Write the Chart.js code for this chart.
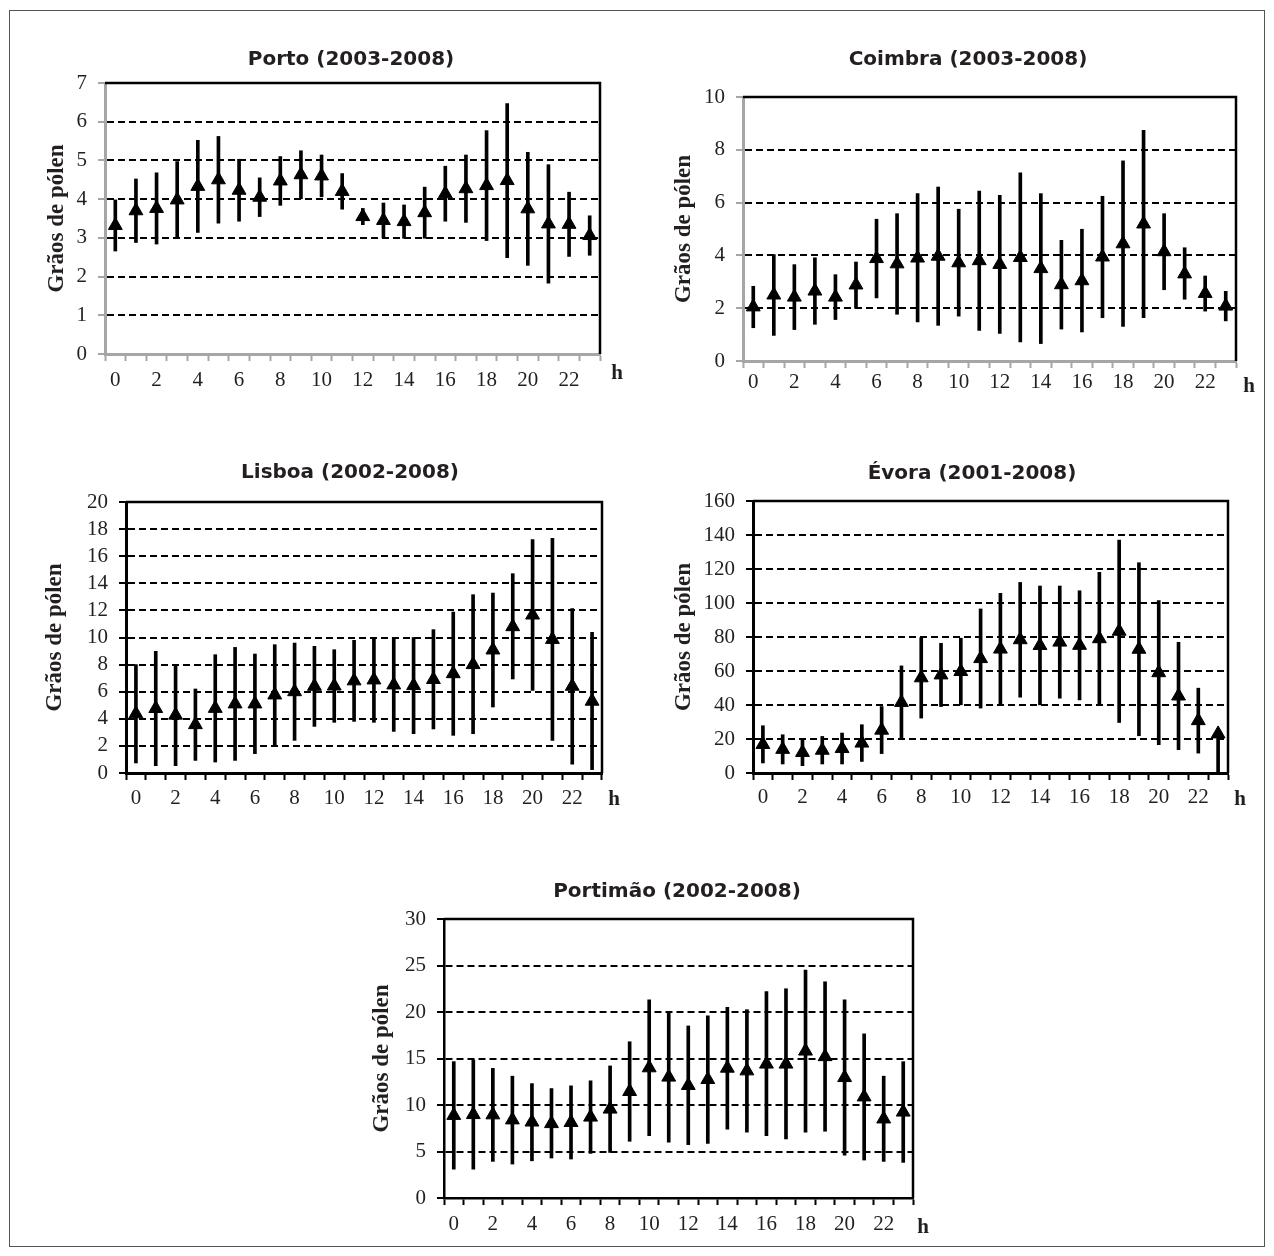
<!DOCTYPE html>
<html lang="pt">
  <head>
    <meta charset="UTF-8" />
    <title>Grãos de pólen por hora</title>
    <style>
      body {
        margin: 0;
        background-color: #ffffff;
      }
      #page {
        position: relative;
        width: 1274px;
        height: 1256px;
      }
      #moldura {
        position: absolute;
        left: 9px;
        top: 10px;
        width: 1256px;
        height: 1237px;
        border: 1.5px solid #555;
        box-sizing: border-box;
      }
      canvas {
        position: absolute;
      }
    </style>
  </head>
  <body>
    <div id="page">
      <div id="moldura"></div>
      <canvas id="porto"></canvas>
      <canvas id="coimbra"></canvas>
      <canvas id="lisboa"></canvas>
      <canvas id="evora"></canvas>
      <canvas id="portimao"></canvas>
    </div>
    <script src="https://cdn.jsdelivr.net/npm/chart.js@4"></script>
    <script>
      // horas do dia
      var hours = ["0", "1", "2", "3", "4", "5", "6", "7", "8", "9", "10", "11",
        "12", "13", "14", "15", "16", "17", "18", "19", "20", "21", "22", "23"];

      // Porto (2003-2008)
      var portoMean = [3.32, 3.7, 3.76, 3.98, 4.33, 4.5, 4.23, 4.05, 4.47, 4.63, 4.6, 4.2,
        3.55, 3.45, 3.42, 3.65, 4.14, 4.27, 4.35, 4.48, 3.75, 3.36, 3.35, 3.06];
      var portoHigh = [3.98, 4.52, 4.68, 4.97, 5.52, 5.62, 5.03, 4.55, 5.1, 5.25, 5.14, 4.66,
        3.76, 3.9, 3.85, 4.31, 4.85, 5.14, 5.77, 6.47, 5.21, 4.89, 4.18, 3.57];
      var portoLow = [2.66, 2.88, 2.84, 2.99, 3.14, 3.38, 3.43, 3.55, 3.84, 4.01, 4.06, 3.74,
        3.34, 3.0, 2.99, 2.99, 3.43, 3.4, 2.93, 2.49, 2.29, 1.83, 2.52, 2.55];

      // Coimbra (2003-2008)
      var coimbraMean = [2.05, 2.5, 2.42, 2.65, 2.42, 2.88, 3.88, 3.68, 3.9, 3.97, 3.72, 3.8,
        3.66, 3.92, 3.5, 2.89, 3.04, 3.94, 4.44, 5.19, 4.14, 3.3, 2.56, 2.08];
      var coimbraHigh = [2.83, 4.03, 3.65, 3.91, 3.27, 3.75, 5.37, 5.58, 6.34, 6.59, 5.75, 6.44,
        6.28, 7.13, 6.34, 4.57, 4.99, 6.24, 7.58, 8.74, 5.58, 4.29, 3.22, 2.64];
      var coimbraLow = [1.26, 0.97, 1.19, 1.39, 1.57, 2.0, 2.39, 1.77, 1.48, 1.35, 1.7, 1.16,
        1.04, 0.72, 0.66, 1.21, 1.1, 1.64, 1.31, 1.64, 2.7, 2.34, 1.89, 1.52];

      // Lisboa (2002-2008)
      var lisboaMean = [4.37, 4.76, 4.27, 3.57, 4.77, 5.1, 5.1, 5.76, 6.0, 6.4, 6.42, 6.8,
        6.87, 6.5, 6.45, 6.9, 7.33, 8.0, 9.08, 10.8, 11.66, 9.86, 6.4, 5.3];
      var lisboaHigh = [8.0, 8.98, 8.0, 6.2, 8.73, 9.27, 8.78, 9.47, 9.59, 9.35, 9.1, 9.79,
        10.0, 10.0, 10.0, 10.58, 11.88, 13.16, 13.28, 14.71, 17.22, 17.32, 12.13, 10.38];
      var lisboaLow = [0.74, 0.54, 0.54, 0.93, 0.81, 0.93, 1.43, 2.04, 2.41, 3.44, 3.74, 3.81,
        3.74, 3.07, 2.9, 3.25, 2.78, 2.9, 4.87, 6.94, 6.1, 2.41, 0.66, 0.25];

      // Évora (2001-2008)
      var evoraMean = [16.8, 13.9, 12.1, 13.4, 14.4, 17.6, 25.2, 41.5, 56, 57.7, 59.7, 67.3,
        72.9, 78.4, 75, 77, 75.1, 79, 83.4, 72.8, 59, 45.3, 30.8, 23];
      var evoraHigh = [27.8, 22.5, 20, 21.5, 23.5, 28.4, 39.1, 63, 79.6, 76.3, 79.3, 96.5,
        105.7, 112.1, 110, 110, 107.2, 118, 137, 123.7, 101.4, 76.9, 49.9, 24.9];
      var evoraLow = [5.9, 5.3, 4.3, 5.3, 5.3, 6.8, 11.4, 20, 32.3, 39.1, 40.1, 38.2,
        40.1, 44.6, 40.1, 44, 43, 40.1, 29.7, 21.9, 16.6, 13.7, 11.7, 0];

      // Portimão (2002-2008)
      var portimaoMean = [8.88, 8.97, 8.94, 8.4, 8.17, 8.0, 8.12, 8.7, 9.56, 11.45, 14.0, 13.0,
        12.1, 12.74, 13.96, 13.67, 14.4, 14.4, 15.8, 15.2, 12.95, 10.87, 8.5, 9.24];
      var portimaoHigh = [14.66, 14.84, 13.94, 13.1, 12.3, 11.77, 12.06, 12.6, 14.2, 16.8, 21.3, 20.07,
        18.5, 19.6, 20.5, 20.25, 22.2, 22.5, 24.5, 23.25, 21.3, 17.65, 13.1, 14.66];
      var portimaoLow = [3.1, 3.1, 3.94, 3.65, 4.0, 4.3, 4.19, 4.8, 4.9, 6.1, 6.7, 6.0,
        5.74, 5.88, 7.4, 7.08, 6.7, 6.35, 7.08, 7.18, 4.6, 4.08, 3.94, 3.83];

      var TICK_FONT = 21;
      var YTITLE_FONT = 23;

      // moldura superior/direita e a unidade "h"
      var frameAndUnit = {
        id: "frameAndUnit",
        beforeDatasetsDraw: function (chart) {
          var a = chart.chartArea;
          var ctx = chart.ctx;
          ctx.save();
          ctx.strokeStyle = "#000";
          ctx.lineWidth = 2.5;
          ctx.beginPath();
          ctx.moveTo(a.left, a.top);
          ctx.lineTo(a.right, a.top);
          ctx.lineTo(a.right, a.bottom);
          ctx.stroke();
          ctx.restore();
        },
        afterDraw: function (chart, args, opts) {
          var a = chart.chartArea;
          var ctx = chart.ctx;
          ctx.save();
          ctx.font = 'bold 21px "Liberation Serif"';
          ctx.fillStyle = "#231f20";
          ctx.textAlign = "center";
          ctx.textBaseline = "middle";
          ctx.fillText(opts.text, a.right + opts.dx, a.bottom + opts.dy);
          ctx.restore();
        },
      };

      function drawPanel(id, title, mean, low, high, yMax, step, box) {
        var canvas = document.getElementById(id);
        var titleLine = 24;
        var padTop = 4;
        var xAxisH = 56;
        var left = Math.round(box.yTitleX - YTITLE_FONT * 0.6);
        var top = Math.round(box.titleY - titleLine / 2 - padTop);
        var rightEdge = Math.round(2 * box.titleX - left);
        var w = rightEdge - left;
        var h = box.B + xAxisH - top;
        canvas.width = w;
        canvas.height = h;
        canvas.style.width = w + "px";
        canvas.style.height = h + "px";
        canvas.style.left = left + "px";
        canvas.style.top = top + "px";

        return new Chart(canvas, {
          type: "bar",
          data: {
            labels: hours,
            datasets: [
              {
                type: "line",
                data: mean,
                showLine: false,
                pointStyle: "triangle",
                pointRadius: 8,
                pointBackgroundColor: "#000",
                pointBorderColor: "#000",
                pointBorderWidth: 1,
                order: 0,
                yAxisID: "y",
              },
              {
                type: "bar",
                data: low.map(function (v, i) {
                  return [v, high[i]];
                }),
                backgroundColor: "#000",
                barThickness: 3,
                order: 1,
                yAxisID: "y",
              },
            ],
          },
          options: {
            responsive: false,
            animation: false,
            events: [],
            layout: { padding: 0 },
            plugins: {
              legend: { display: false },
              tooltip: { enabled: false },
              title: {
                display: true,
                text: title,
                color: "#231f20",
                font: { family: "DejaVu Sans", size: 20, weight: "bold" },
                padding: { top: padTop, bottom: box.T - top - padTop - titleLine },
              },
              frameAndUnit: { text: "h", dx: box.hx, dy: box.hy },
            },
            scales: {
              x: {
                type: "category",
                offset: true,
                grid: {
                  offset: true,
                  drawOnChartArea: false,
                  tickLength: 7,
                  tickColor: box.axis,
                  tickWidth: 2,
                  color: box.axis,
                },
                border: { color: box.axis, width: box.axisW },
                ticks: {
                  autoSkip: false,
                  maxRotation: 0,
                  minRotation: 0,
                  padding: box.labelGap - 7 - TICK_FONT * 0.6,
                  color: "#231f20",
                  font: { family: "Liberation Serif", size: TICK_FONT },
                  callback: function (v, i) {
                    return i % 2 ? "" : hours[i];
                  },
                },
                afterFit: function (s) {
                  s.height = xAxisH;
                },
              },
              y: {
                type: "linear",
                position: "left",
                min: 0,
                max: yMax,
                ticks: {
                  stepSize: step,
                  autoSkip: false,
                  color: "#231f20",
                  font: { family: "Liberation Serif", size: TICK_FONT },
                  padding: 11,
                },
                grid: {
                  color: function (c) {
                    return c.tick && c.tick.value > 0 && c.tick.value < yMax ? "#000" : "rgba(0,0,0,0)";
                  },
                  lineWidth: 2,
                  tickLength: 7,
                  tickColor: box.axis,
                  tickWidth: 2,
                  tickBorderDash: [],
                },
                border: { color: box.axis, width: box.axisW, dash: [7, 4] },
                title: {
                  display: true,
                  text: "Grãos de pólen",
                  color: "#231f20",
                  font: { family: "Liberation Serif", size: YTITLE_FONT, weight: "bold" },
                  padding: 0,
                },
                afterFit: function (s) {
                  s.width = box.L - left;
                },
              },
              // espaço à direita (centra o título como no original)
              pad: {
                type: "linear",
                position: "right",
                display: true,
                grid: { display: false },
                border: { display: false },
                ticks: { display: false },
                afterFit: function (s) {
                  s.width = rightEdge - box.R;
                },
              },
            },
          },
          plugins: [frameAndUnit],
        });
      }

      drawPanel("porto", "Porto (2003-2008)", portoMean, portoLow, portoHigh, 7, 1, {
        L: 105, T: 83, R: 600, B: 354, titleX: 351, titleY: 60, yTitleX: 57,
        labelGap: 26, hx: 17, hy: 20, axis: "#a6a6a6", axisW: 3,
      });
      drawPanel("coimbra", "Coimbra (2003-2008)", coimbraMean, coimbraLow, coimbraHigh, 10, 2, {
        L: 743, T: 97, R: 1236, B: 361, titleX: 968, titleY: 60, yTitleX: 684,
        labelGap: 21, hx: 13, hy: 26, axis: "#a6a6a6", axisW: 3,
      });
      drawPanel("lisboa", "Lisboa (2002-2008)", lisboaMean, lisboaLow, lisboaHigh, 20, 2, {
        L: 126, T: 502, R: 602, B: 773, titleX: 350, titleY: 473, yTitleX: 55,
        labelGap: 25, hx: 12, hy: 27, axis: "#000", axisW: 3,
      });
      drawPanel("evora", "Évora (2001-2008)", evoraMean, evoraLow, evoraHigh, 160, 20, {
        L: 753, T: 501, R: 1228, B: 773, titleX: 972, titleY: 474, yTitleX: 684,
        labelGap: 24, hx: 12, hy: 27, axis: "#000", axisW: 3,
      });
      drawPanel("portimao", "Portimão (2002-2008)", portimaoMean, portimaoLow, portimaoHigh, 30, 5, {
        L: 444, T: 919, R: 913, B: 1198, titleX: 677, titleY: 892, yTitleX: 382,
        labelGap: 26, hx: 10, hy: 30, axis: "#000", axisW: 2.5,
      });
    </script>
  </body>
</html>
